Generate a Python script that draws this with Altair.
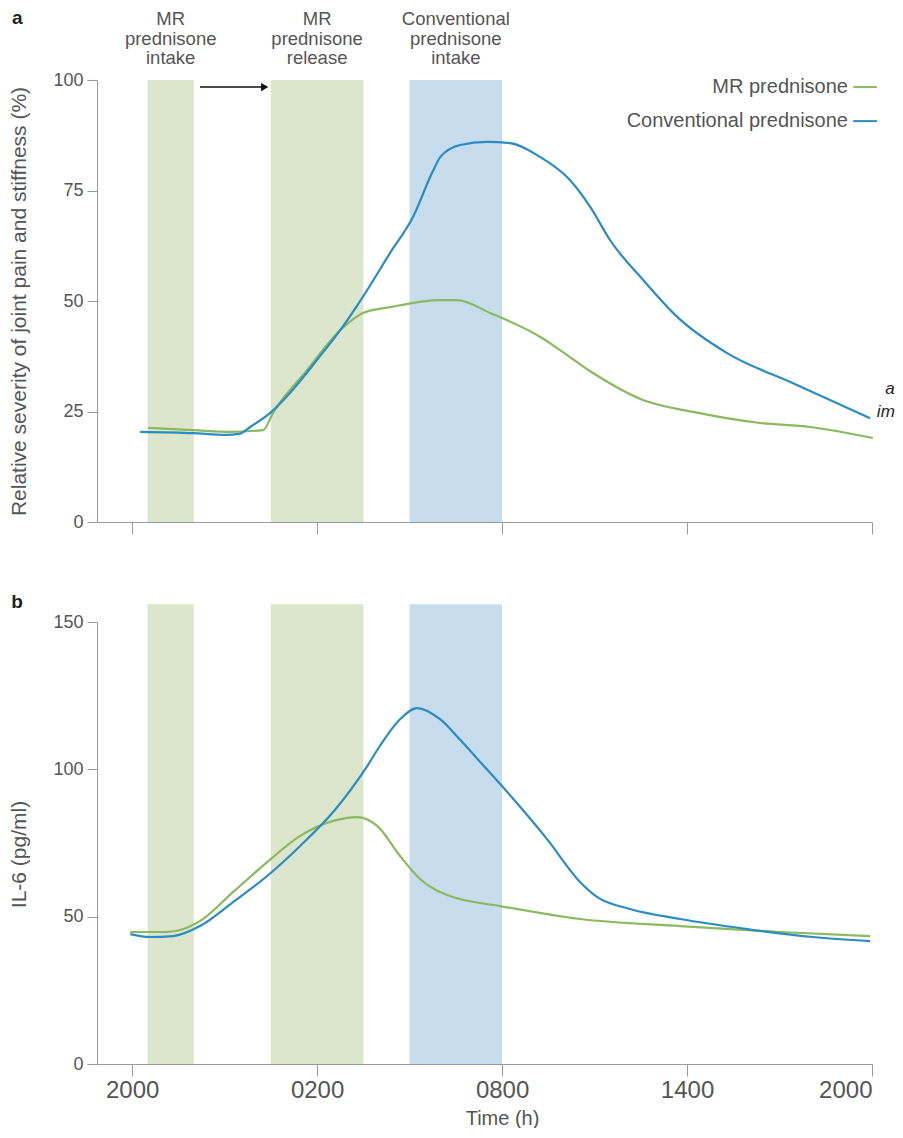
import altair as alt
import pandas as pd

# ---------------- data ----------------
# x axis: hours elapsed since 20:00
tick_hours = [0, 6, 12, 18, 24]
tick_labels = ["2000", "0200", "0800", "1400", "2000"]

band_start = [0.5, 4.5, 9.0]
band_end = [2.0, 7.5, 12.0]
band_kind = ["MR", "MR", "Conv"]
band_label = ["MR\nprednisone\nintake", "MR\nprednisone\nrelease", "Conventional\nprednisone\nintake"]

series_names = ["MR prednisone", "Conventional prednisone"]

# panel a: relative severity of joint pain and stiffness (%)
a_conv_h = [0.26, 1.98, 3.02, 3.5, 3.83, 4.48, 5.12, 6.0, 6.75, 7.49, 8.37, 9.11, 9.73, 10.0,
            10.64, 11.51, 12.26, 13.23, 14.2, 14.86, 15.5, 16.57, 17.68, 19.3, 21.44, 23.94]
a_conv_v = [20.4, 20.1, 19.7, 20.0, 21.5, 24.7, 29.2, 36.7, 43.4, 51.0, 60.9, 69.0, 79.0, 82.6,
            85.3, 86.0, 85.7, 82.6, 77.4, 71.3, 63.8, 54.8, 46.4, 38.2, 31.4, 23.5]
a_mr_h = [0.52, 1.98, 3.18, 4.25, 4.57, 5.68, 6.75, 7.49, 8.37, 10.0, 10.54, 11.61, 13.23,
          13.88, 14.95, 16.57, 18.2, 20.37, 21.99, 24.03]
a_mr_v = [21.3, 20.8, 20.4, 20.8, 24.7, 34.4, 43.4, 47.3, 48.6, 50.2, 50.2, 47.3, 41.9,
          38.9, 33.7, 27.6, 24.9, 22.4, 21.5, 19.0]

# panel b: IL-6 (pg/ml)
b_conv_h = [-0.06, 0.58, 1.33, 2.2, 3.28, 4.38, 5.45, 6.52, 7.62, 8.04, 8.69, 9.24, 9.99,
            10.64, 11.29, 12.36, 13.46, 14.53, 15.08, 16.15, 17.78, 19.95, 22.09, 23.94]
b_conv_v = [44.1, 43.1, 43.4, 46.8, 55.0, 63.8, 74.0, 85.5, 101.0, 108.0, 117.0, 120.8, 117.0,
            110.0, 102.5, 90.0, 76.3, 61.8, 56.7, 52.6, 49.2, 45.8, 43.1, 41.7]
b_mr_h = [-0.06, 1.14, 2.2, 3.28, 4.38, 5.45, 6.52, 7.3, 7.95, 8.69, 9.34, 10.31, 11.94,
          14.53, 17.78, 21.02, 23.94]
b_mr_v = [44.8, 44.8, 48.5, 58.4, 68.5, 77.4, 82.5, 83.8, 80.8, 70.6, 62.8, 57.0, 53.6,
          49.2, 46.8, 44.8, 43.4]

# ---------------- styling ----------------
FONT = "Liberation Sans"
GREEN_LINE = "#8bb960"
BLUE_LINE = "#2a8cc2"
GREEN_BAND = "#dce6cc"
BLUE_BAND = "#c7dcec"
AXIS_GREY = "#9a9a9a"
TEXT_GREY = "#555555"

PW, PH = 775, 442
X_DOMAIN = [-1.14, 24]

xs = alt.Scale(domain=X_DOMAIN, nice=False, zero=False)
stroke_scale = alt.Scale(domain=series_names, range=[GREEN_LINE, BLUE_LINE])
band_fill = alt.Scale(domain=["MR", "Conv"], range=[GREEN_BAND, BLUE_BAND])

label_expr = "{}[indexof({}, datum.value)]".format(
    "[" + ",".join("'%s'" % t for t in tick_labels) + "]",
    "[" + ",".join(str(h) for h in tick_hours) + "]",
)


def line_df(h, v, name):
    return pd.DataFrame({"h": h, "v": v, "series": name})


def x_axis(show_labels):
    kw = dict(values=tick_hours, tickSize=12, tickColor=AXIS_GREY, domainColor=AXIS_GREY,
              grid=False, labelFont=FONT, labelFontSize=24, labelColor=TEXT_GREY,
              labelPadding=2, titleFont=FONT, titleFontSize=20, titleColor=TEXT_GREY,
              titleFontWeight="normal", titlePadding=6)
    if show_labels:
        return alt.Axis(title="Time (h)", labelExpr=label_expr, titleX=405,
                        titleAlign="center", **kw)
    return alt.Axis(title=None, labels=False, **kw)


def y_axis(title, values, title_y=None):
    kw = dict(title=title, values=values, tickSize=10, tickColor=AXIS_GREY,
              domainColor=AXIS_GREY, grid=False, labelFont=FONT, labelFontSize=18,
              labelColor=TEXT_GREY, labelPadding=4, titleFont=FONT, titleFontSize=21,
              titleColor=TEXT_GREY, titleFontWeight="normal", titlePadding=23)
    if title_y is not None:
        kw["titleY"] = title_y
    return alt.Axis(**kw)


def panel(lines_df, ymax, band_top, ytitle, yvalues, show_xlabels, letter, letter_y,
          title_y=None):
    ys = alt.Scale(domain=[0, ymax], nice=False, zero=True)
    bdf = pd.DataFrame({"start": band_start, "end": band_end, "kind": band_kind,
                        "bottom": 0, "top": band_top})
    bands = alt.Chart(bdf).mark_rect(clip=False).encode(
        x=alt.X("start:Q", scale=xs, axis=x_axis(show_xlabels)),
        x2="end:Q",
        y=alt.Y("bottom:Q", scale=ys, axis=y_axis(ytitle, yvalues, title_y)),
        y2="top:Q",
        fill=alt.Fill("kind:N", scale=band_fill, legend=None),
    )
    lines = alt.Chart(lines_df).mark_line(interpolate="monotone", strokeWidth=2.2).encode(
        x=alt.X("h:Q", scale=xs),
        y=alt.Y("v:Q", scale=ys),
        stroke=alt.Stroke("series:N", scale=stroke_scale, legend=None),
        detail="series:N",
    )
    ldf = pd.DataFrame({"h": [-3.73], "v": [letter_y], "t": [letter]})
    letter_mark = alt.Chart(ldf).mark_text(
        font=FONT, fontSize=19, fontWeight="bold", color="#222222", align="center",
        baseline="middle", clip=False,
    ).encode(x=alt.X("h:Q", scale=xs), y=alt.Y("v:Q", scale=ys), text="t:N")
    return [bands, lines, letter_mark], ys


# ---------- panel a ----------
a_lines = pd.concat([line_df(a_mr_h, a_mr_v, series_names[0]),
                     line_df(a_conv_h, a_conv_v, series_names[1])])
layers_a, ys_a = panel(a_lines, 100, 100, "Relative severity of joint pain and stiffness (%)",
                       [0, 25, 50, 75, 100], False, "a", 114)

ann_df = pd.DataFrame({"h": [(s + e) / 2 for s, e in zip(band_start, band_end)],
                       "v": [115.8] * 3, "t": band_label})
annotations = alt.Chart(ann_df).mark_text(
    font=FONT, fontSize=18.5, color=TEXT_GREY, align="center", baseline="top",
    lineBreak="\n", lineHeight=19.5, clip=False,
).encode(x=alt.X("h:Q", scale=xs), y=alt.Y("v:Q", scale=ys_a), text="t:N")

arrow_df = pd.DataFrame({"h": [2.2], "h2": [4.3], "v": [98.4]})
arrow_line = alt.Chart(arrow_df).mark_rule(color="#111111", strokeWidth=1.5).encode(
    x=alt.X("h:Q", scale=xs), x2="h2:Q", y=alt.Y("v:Q", scale=ys_a))
arrow_head = alt.Chart(arrow_df).mark_point(
    shape="triangle-right", filled=True, color="#111111", size=70, opacity=1).encode(
    x=alt.X("h2:Q", scale=xs), y=alt.Y("v:Q", scale=ys_a))

leg_df = pd.DataFrame({"t": series_names, "h": [23.22, 23.22], "v": [98.4, 90.7],
                       "l1": [23.39, 23.39], "l2": [24.16, 24.16]})
leg_text = alt.Chart(leg_df).mark_text(
    font=FONT, fontSize=20, color=TEXT_GREY, align="right", baseline="middle", clip=False,
).encode(x=alt.X("h:Q", scale=xs), y=alt.Y("v:Q", scale=ys_a), text="t:N")
leg_lines = alt.Chart(leg_df).mark_rule(strokeWidth=2, clip=False).encode(
    x=alt.X("l1:Q", scale=xs), x2="l2:Q", y=alt.Y("v:Q", scale=ys_a),
    stroke=alt.Stroke("t:N", scale=stroke_scale, legend=None))

edge_df = pd.DataFrame({"t": ["a", "im"], "h": [24.74, 24.74], "v": [30.0, 24.8]})
edge_text = alt.Chart(edge_df).mark_text(
    font=FONT, fontSize=17, fontStyle="italic", color="#222222", align="right",
    baseline="middle", clip=False,
).encode(x=alt.X("h:Q", scale=xs), y=alt.Y("v:Q", scale=ys_a), text="t:N")

top = alt.layer(*layers_a, annotations, arrow_line, arrow_head, leg_text, leg_lines,
                edge_text).properties(width=PW, height=PH)

# ---------- panel b ----------
b_lines = pd.concat([line_df(b_mr_h, b_mr_v, series_names[0]),
                     line_df(b_conv_h, b_conv_v, series_names[1])])
layers_b, ys_b = panel(b_lines, 150, 156, "IL-6 (pg/ml)", [0, 50, 100, 150], True, "b", 156.8,
                       title_y=232)
bottom = alt.layer(*layers_b).properties(width=PW, height=PH)

chart = alt.vconcat(top, bottom, spacing=57).properties(
    padding={"left": 0, "top": 1, "right": 0, "bottom": 0}, background="white"
).configure_view(strokeWidth=0)

chart.save("out.html", embed_options={"renderer": "svg", "actions": False})
